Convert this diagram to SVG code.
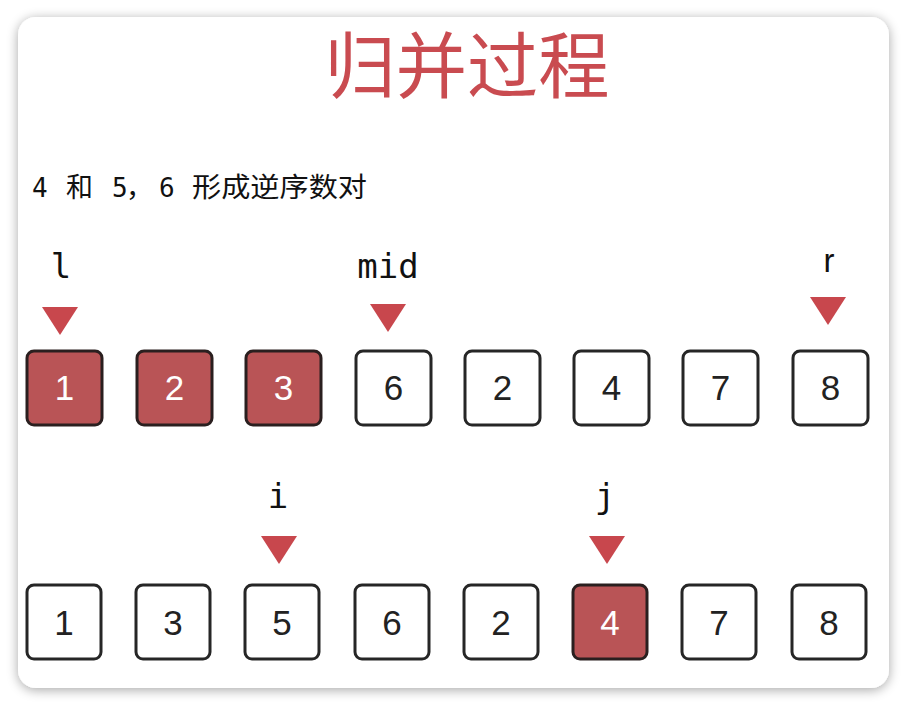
<svg xmlns="http://www.w3.org/2000/svg" width="907" height="705" viewBox="0 0 907 705">
  <defs>
    <filter id="shadow" x="-5%" y="-5%" width="110%" height="110%">
      <feGaussianBlur in="SourceAlpha" stdDeviation="6"/>
      <feOffset dx="0" dy="2" result="b"/>
      <feComponentTransfer><feFuncA type="linear" slope="0.35"/></feComponentTransfer>
      <feMerge><feMergeNode/><feMergeNode in="SourceGraphic"/></feMerge>
    </filter>
    <polygon id="tri" points="-18,0 18,0 0,28"/>
  </defs>
  <style>
    .box { fill: #ffffff; stroke: #262626; stroke-width: 3; }
    .box.hot { fill: #b95456; stroke: #2a1f1f; }
    .num { font-family: "Liberation Sans", Arial, sans-serif; font-size: 35px; fill: #222; text-anchor: middle; }
    .num.hot { fill: #ffffff; }
    .tri { fill: #c8474d; }
    .lbl { font-family: "DejaVu Sans Mono", "Liberation Mono", monospace; font-size: 34px; fill: #111; text-anchor: middle; }
    .sub { font-family: "DejaVu Sans Mono", "Liberation Mono", "Noto Sans CJK SC", monospace; font-size: 26px; fill: #111; }
    .cjk { font-family: "Noto Sans CJK SC", sans-serif; font-size: 27px; fill: #111; }
    .title { font-family: "Noto Sans CJK SC", sans-serif; font-size: 72px; fill: #c94b50; text-anchor: middle; }
  </style>
  <rect x="0" y="0" width="907" height="705" fill="#ffffff"/>
  <rect x="18" y="17" width="871" height="671" rx="18" fill="#ffffff" filter="url(#shadow)"/>

  <text class="title" x="467" y="92" textLength="285" lengthAdjust="spacingAndGlyphs">归并过程</text>

  <g id="subtitle">
    <text class="sub" x="32" y="197">4</text>
    <text class="cjk" x="66" y="197">和</text>
    <text class="sub" x="112" y="197">5</text>
    <text class="cjk" x="126" y="197">，</text>
    <text class="sub" x="159" y="197">6</text>
    <text class="cjk" x="192" y="197" textLength="175" lengthAdjust="spacingAndGlyphs">形成逆序数对</text>
  </g>

  <g id="pointers">
    <g id="ptr-l"><text class="lbl" x="61" y="278">l</text><use href="#tri" class="tri" x="60" y="307"/></g>
    <g id="ptr-mid"><text class="lbl" x="388" y="278">mid</text><use href="#tri" class="tri" x="388" y="304"/></g>
    <g id="ptr-r"><text class="num" x="829" y="272" style="fill:#111;font-size:33px">r</text><use href="#tri" class="tri" x="828" y="297"/></g>
    <g id="ptr-i"><text class="lbl" x="278" y="508">i</text><use href="#tri" class="tri" x="279" y="536"/></g>
    <g id="ptr-j"><text class="lbl" x="605" y="508">j</text><use href="#tri" class="tri" x="607" y="536"/></g>
  </g>

  <g id="row1">
    <g id="a0"><rect class="box hot" x="27" y="351" width="75" height="74" rx="7"/><text class="num hot" x="64.5" y="400">1</text></g>
    <g id="a1"><rect class="box hot" x="137" y="351" width="75" height="74" rx="7"/><text class="num hot" x="174.5" y="400">2</text></g>
    <g id="a2"><rect class="box hot" x="246" y="351" width="75" height="74" rx="7"/><text class="num hot" x="283.5" y="400">3</text></g>
    <g id="a3"><rect class="box" x="356" y="351" width="75" height="74" rx="7"/><text class="num" x="393.5" y="400">6</text></g>
    <g id="a4"><rect class="box" x="465" y="351" width="75" height="74" rx="7"/><text class="num" x="502.5" y="400">2</text></g>
    <g id="a5"><rect class="box" x="574" y="351" width="75" height="74" rx="7"/><text class="num" x="611.5" y="400">4</text></g>
    <g id="a6"><rect class="box" x="683" y="351" width="75" height="74" rx="7"/><text class="num" x="720.5" y="400">7</text></g>
    <g id="a7"><rect class="box" x="793" y="351" width="75" height="74" rx="7"/><text class="num" x="830.5" y="400">8</text></g>
  </g>

  <g id="row2">
    <g id="b0"><rect class="box" x="27" y="585" width="74" height="74" rx="7"/><text class="num" x="64" y="635">1</text></g>
    <g id="b1"><rect class="box" x="136" y="585" width="74" height="74" rx="7"/><text class="num" x="173" y="635">3</text></g>
    <g id="b2"><rect class="box" x="245" y="585" width="74" height="74" rx="7"/><text class="num" x="282" y="635">5</text></g>
    <g id="b3"><rect class="box" x="355" y="585" width="74" height="74" rx="7"/><text class="num" x="392" y="635">6</text></g>
    <g id="b4"><rect class="box" x="464" y="585" width="74" height="74" rx="7"/><text class="num" x="501" y="635">2</text></g>
    <g id="b5"><rect class="box hot" x="573" y="585" width="74" height="74" rx="7"/><text class="num hot" x="610" y="635">4</text></g>
    <g id="b6"><rect class="box" x="682" y="585" width="74" height="74" rx="7"/><text class="num" x="719" y="635">7</text></g>
    <g id="b7"><rect class="box" x="792" y="585" width="74" height="74" rx="7"/><text class="num" x="829" y="635">8</text></g>
  </g>
  <g id="connectors"/>
</svg>
